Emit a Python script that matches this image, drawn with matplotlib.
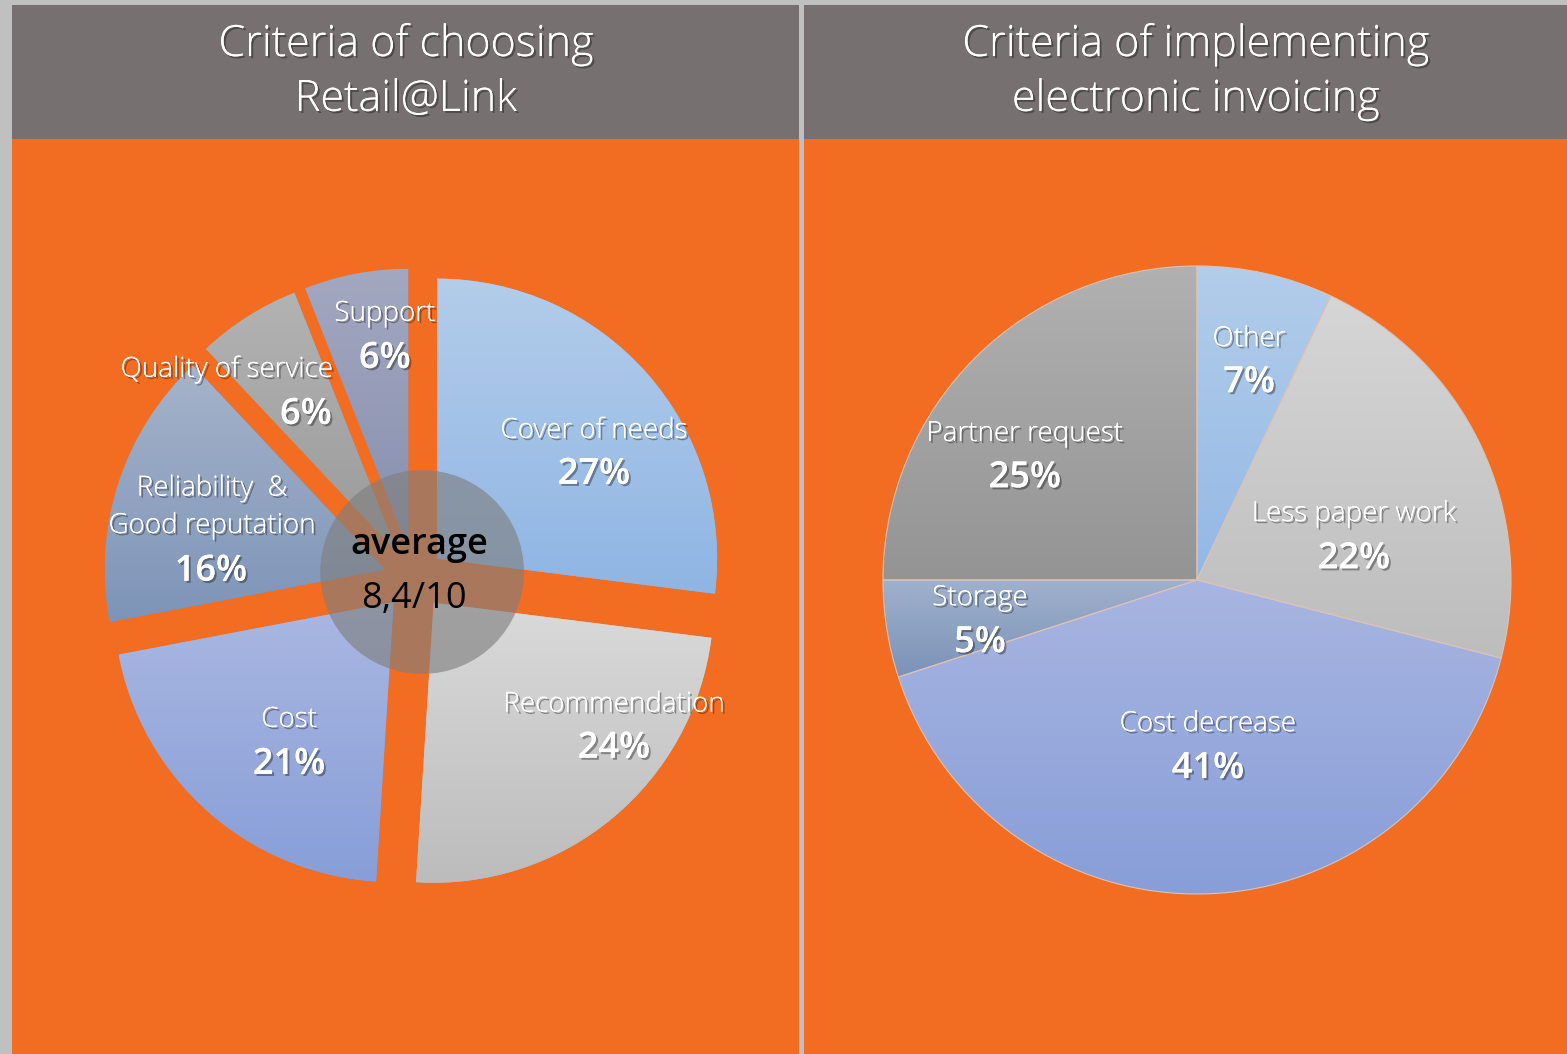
import numpy as np
import matplotlib
matplotlib.use("Agg")
import matplotlib.pyplot as plt
import matplotlib.patheffects as pe
from matplotlib.colors import LinearSegmentedColormap
from matplotlib.patches import Rectangle, Circle

# data
choose_labels = ["Cover of needs", "Recommendation", "Cost",
                 "Reliability  &\nGood reputation", "Quality of service", "Support"]
choose_values = [27, 24, 21, 16, 6, 6]
invoice_labels = ["Other", "Less paper work", "Cost decrease", "Storage", "Partner request"]
invoice_values = [7, 22, 41, 5, 25]
average_text = "8,4/10"

# gradient colours (top, bottom) per slice
choose_colors = [("#b3cdea", "#8fb5e4"), ("#dadada", "#bcbcbc"), ("#aab7e1", "#879ed8"),
                 ("#a6b3ca", "#7d94b8"), ("#b3b3b3", "#9a9a9a"), ("#a3a8c0", "#878fae")]
invoice_colors = [("#b3cdea", "#93b8e5"), ("#d6d6d6", "#bdbdbd"), ("#a8b5e1", "#889ed8"),
                  ("#a0b1cc", "#7b92b7"), ("#b1b1b1", "#949494")]

# label positions in pie units: (name xy, pct xy)
choose_pos = [((0.643, 0.529), (0.643, 0.372)), ((0.714, -0.449), (0.714, -0.606)),
              ((-0.446, -0.503), (-0.446, -0.664)), ((-0.721, 0.256), (-0.725, 0.026)),
              ((-0.668, 0.747), (-0.386, 0.586)), ((-0.104, 0.947), (-0.104, 0.786))]
invoice_pos = [((0.166, 0.767), (0.166, 0.627)), ((0.5, 0.21), (0.5, 0.066)),
               ((0.035, -0.459), (0.035, -0.602)), ((-0.691, -0.058), (-0.691, -0.201)),
               ((-0.548, 0.465), (-0.548, 0.324))]

W, H = 1567, 1054
ORANGE = "#f26d21"
TITLE_BG = "#767170"
LIGHT = ["Segoe UI", "Open Sans", "DejaVu Sans"]

fig = plt.figure(figsize=(W / 100, H / 100), dpi=100, facecolor="#c0c0c0")

bg = fig.add_axes([0, 0, 1, 1])
bg.set_xlim(0, W)
bg.set_ylim(H, 0)
bg.axis("off")
for x0, x1 in [(12, 799), (804, W)]:
    bg.add_patch(Rectangle((x0, 5), x1 - x0, H - 5, color=ORANGE, lw=0))
    bg.add_patch(Rectangle((x0, 5), x1 - x0, 134, color=TITLE_BG, lw=0))

shadow = [pe.withSimplePatchShadow(offset=(1.5, -1.5), shadow_rgbFace="black", alpha=0.35), pe.Normal()]

bg.text(406, 72, "Criteria of choosing\nRetail@Link", ha="center", va="center",
        color="white", fontsize=31, fontweight="light", family=LIGHT,
        linespacing=1.38, path_effects=shadow)
bg.text(1196, 72, "Criteria of implementing\nelectronic invoicing", ha="center", va="center",
        color="white", fontsize=31, fontweight="light", family=LIGHT,
        linespacing=1.38, path_effects=shadow)


def pie_axes(cx, cy, r):
    span = 1.3
    size = 2 * span * r
    ax = fig.add_axes([(cx - size / 2) / W, (H - cy - size / 2) / H, size / W, size / H])
    return ax


def gradient_pie(ax, values, colors, explode, edge):
    wedges, _ = ax.pie(values, startangle=90, counterclock=False, explode=explode,
                       wedgeprops=dict(linewidth=0.8 if edge else 0, edgecolor=edge or "none"))
    grad = np.linspace(0, 1, 256).reshape(-1, 1)
    for w, (top, bot) in zip(wedges, colors):
        w.set_facecolor(bot)
        bb = w.get_path().get_extents(w.get_patch_transform())
        cmap = LinearSegmentedColormap.from_list("g", [top, bot])
        im = ax.imshow(grad, cmap=cmap, extent=[bb.x0, bb.x1, bb.y0, bb.y1],
                       origin="upper", aspect="auto", interpolation="bicubic", zorder=1.5)
        im.set_clip_path(w)
        if edge:
            w.set_zorder(2)
            w.set_facecolor("none")
    ax.set_xlim(-1.3, 1.3)
    ax.set_ylim(-1.3, 1.3)
    ax.axis("off")
    return wedges


def add_labels(ax, labels, values, pos):
    for lab, v, (p1, p2) in zip(labels, values, pos):
        ax.text(*p1, lab, ha="center", va="center", color="white", fontsize=20,
                fontweight="light", family=LIGHT, linespacing=1.45,
                path_effects=shadow, zorder=5)
        ax.text(*p2, f"{v}%", ha="center", va="center", color="white", fontsize=26,
                fontweight="semibold", family=LIGHT, path_effects=shadow, zorder=5)


ax1 = pie_axes(414, 579, 280)
gradient_pie(ax1, choose_values, choose_colors, [0.11] * len(choose_values), None)
add_labels(ax1, choose_labels, choose_values, choose_pos)
ax1.add_patch(Circle((0.029, 0.025), 0.364, facecolor="#7f7f7f", alpha=0.63, lw=0, zorder=4))
ax1.text(0.02, 0.12, "average", ha="center", va="center", fontsize=26,
         fontweight="semibold", family=LIGHT, color="black", zorder=6)
ax1.text(0.0, -0.07, average_text, ha="center", va="center", fontsize=26,
         family=LIGHT, color="black", zorder=6)

ax2 = pie_axes(1197, 580, 314)
gradient_pie(ax2, invoice_values, invoice_colors, None, "#dcc2b8")
add_labels(ax2, invoice_labels, invoice_values, invoice_pos)

fig.savefig("out.png", dpi=100, facecolor=fig.get_facecolor())
